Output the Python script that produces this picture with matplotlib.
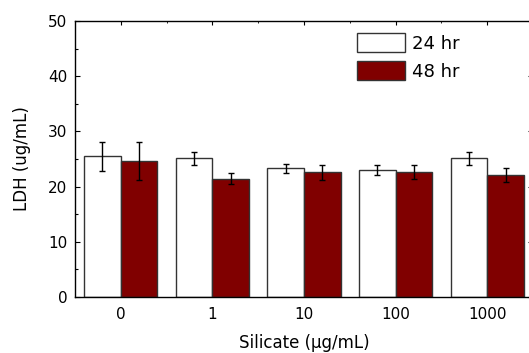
import matplotlib
matplotlib.use("Agg")
import matplotlib.pyplot as plt
from matplotlib.ticker import MultipleLocator, FixedLocator
import numpy as np

# LDH release after silicate exposure
categories = ["0", "1", "10", "100", "1000"]
ldh_24 = [25.5, 25.1, 23.3, 23.0, 25.1]
err_24 = [2.6, 1.1, 0.8, 0.9, 1.1]
ldh_48 = [24.6, 21.4, 22.6, 22.6, 22.1]
err_48 = [3.4, 1.0, 1.4, 1.3, 1.2]
series_labels = ["24 hr", "48 hr"]

plt.rcParams["font.family"] = ["DejaVu Sans"]

W, H = 529, 353
fig = plt.figure(figsize=(W / 100, H / 100), dpi=100)
left, right, top, bottom = 75, 533, 21, 297
ax = fig.add_axes([left / W, 1 - bottom / H, (right - left) / W, (bottom - top) / H])

x = np.arange(len(categories))
bw = 0.4
edge = "#333333"
ekw = dict(ecolor="black", elinewidth=1.0, capsize=2.3, capthick=1.0)
ax.bar(x - bw / 2, ldh_24, bw, color="white", edgecolor=edge, linewidth=1.0,
       yerr=err_24, error_kw=ekw, label=series_labels[0], zorder=2)
ax.bar(x + bw / 2, ldh_48, bw, color="#800000", edgecolor=edge, linewidth=1.0,
       yerr=err_48, error_kw=ekw, label=series_labels[1], zorder=2)

ax.set_xlim(-0.5, len(categories) - 0.5)
ax.set_ylim(0, 50)
ax.set_xticks(x)
ax.set_xticklabels(categories)
ax.xaxis.set_minor_locator(FixedLocator(x[:-1] + 0.5))
ax.yaxis.set_major_locator(MultipleLocator(10))
ax.yaxis.set_minor_locator(MultipleLocator(5))

ax.tick_params(axis="y", which="major", direction="in", length=3.6, width=0.8,
               left=True, right=True, labelsize=11, pad=5.5)
ax.tick_params(axis="y", which="minor", direction="in", length=2.0, width=0.8,
               left=True, right=True)
ax.tick_params(axis="x", which="major", direction="in", length=3.0, width=0.8,
               bottom=False, top=True, labelsize=11, pad=7)
ax.tick_params(axis="x", which="minor", direction="in", length=1.5, width=0.6,
               bottom=False, top=True)

for s in ax.spines.values():
    s.set_linewidth(1.0)
    s.set_color("black")

ax.set_xlabel("Silicate (\u03bcg/mL)", fontsize=12, labelpad=9)
ax.set_ylabel("LDH (ug/mL)", fontsize=12, labelpad=12)

ax.legend(loc="upper left", bbox_to_anchor=(357 / W, 1 - 33.5 / H),
          bbox_transform=fig.transFigure, frameon=False, fontsize=13,
          handlelength=2.67, handleheight=1.22, handletextpad=0.35,
          labelspacing=0.45, borderpad=0, borderaxespad=0)

fig.savefig("out.png", dpi=100)
